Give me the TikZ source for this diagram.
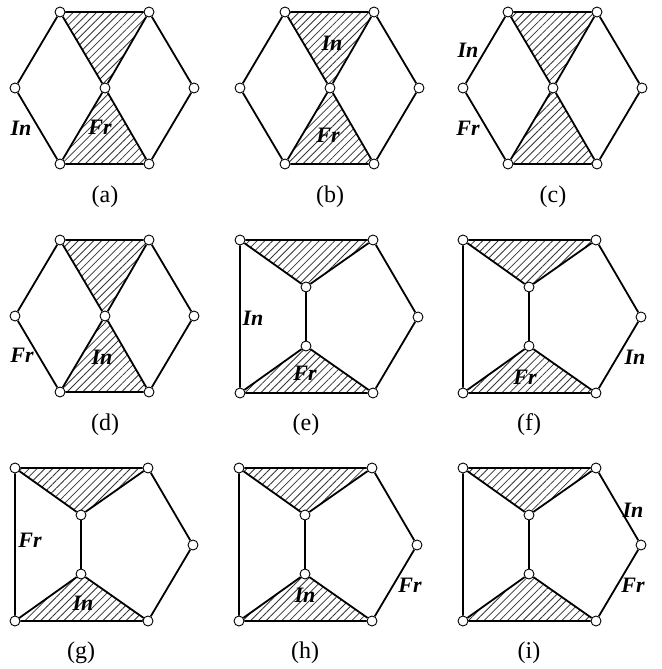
\documentclass[tikz,border=0pt]{standalone}
\usepackage{fontspec}
\setmainfont{Liberation Serif}
\usetikzlibrary{patterns.meta, backgrounds}

\begin{document}
\begin{tikzpicture}[
    x=1pt, y=-1pt,
    vert/.style={circle, draw=black, fill=white, line width=0.9pt, inner sep=0pt, minimum size=10pt},
    edge/.style={line width=1.8pt},
    hatch/.style={pattern={Lines[angle=45, distance=5.5pt, line width=0.8pt]}, pattern color=black!80},
    tag/.style={font=\fontsize{22}{26}\selectfont\bfseries\itshape, inner sep=0pt},
    sublabel/.style={font=\fontsize{24}{28}\selectfont, inner sep=0pt}
]
    \useasboundingbox (0,0) rectangle (661,669);

    % hexagon panels
    \foreach \p/\ox/\oy in {a/15/12, b/240/12, c/463/12, d/15/240} {
        \begin{scope}[shift={(\ox,\oy)}]
            \node[vert] (\p-l)  at (0,76)    {};
            \node[vert] (\p-tl) at (45,0)    {};
            \node[vert] (\p-tr) at (134,0)   {};
            \node[vert] (\p-c)  at (90,76)   {};
            \node[vert] (\p-r)  at (179,76)  {};
            \node[vert] (\p-bl) at (45,152)  {};
            \node[vert] (\p-br) at (134,152) {};
            \node[sublabel] (\p-sub) at (90,185) {(\p)};
            \begin{scope}[on background layer]
                \fill[hatch] (\p-tl.center) -- (\p-tr.center) -- (\p-c.center) -- cycle;
                \fill[hatch] (\p-c.center) -- (\p-bl.center) -- (\p-br.center) -- cycle;
                \draw[edge] (\p-l) -- (\p-tl) -- (\p-tr) -- (\p-r) -- (\p-br) -- (\p-bl) -- (\p-l);
                \draw[edge] (\p-tl) -- (\p-c) -- (\p-br);
                \draw[edge] (\p-tr) -- (\p-c) -- (\p-bl);
            \end{scope}
        \end{scope}
    }

    % pentagon panels
    \foreach \p/\ox/\oy in {e/240/240, f/463/240, g/15/468, h/239/468, i/463/468} {
        \begin{scope}[shift={(\ox,\oy)}]
            \node[vert] (\p-tl) at (0,0)     {};
            \node[vert] (\p-tr) at (133,0)   {};
            \node[vert] (\p-it) at (66,47)   {};
            \node[vert] (\p-ib) at (66,106)  {};
            \node[vert] (\p-r)  at (178,77)  {};
            \node[vert] (\p-bl) at (0,153)   {};
            \node[vert] (\p-br) at (133,153) {};
            \node[sublabel] (\p-sub) at (66,185) {(\p)};
            \begin{scope}[on background layer]
                \fill[hatch] (\p-tl.center) -- (\p-tr.center) -- (\p-it.center) -- cycle;
                \fill[hatch] (\p-ib.center) -- (\p-bl.center) -- (\p-br.center) -- cycle;
                \draw[edge] (\p-tl) -- (\p-tr) -- (\p-r) -- (\p-br) -- (\p-bl) -- (\p-tl);
                \draw[edge] (\p-tl) -- (\p-it) -- (\p-tr);
                \draw[edge] (\p-it) -- (\p-ib);
                \draw[edge] (\p-bl) -- (\p-ib) -- (\p-br);
            \end{scope}
        \end{scope}
    }

    % In / Fr marks
    \node[tag] (a-in) at (21,128)  {In};
    \node[tag] (a-fr) at (100,127) {Fr};
    \node[tag] (b-in) at (332,43)  {In};
    \node[tag] (b-fr) at (328,135) {Fr};
    \node[tag] (c-in) at (468,50)  {In};
    \node[tag] (c-fr) at (468,128) {Fr};
    \node[tag] (d-fr) at (22,355)  {Fr};
    \node[tag] (d-in) at (102,357) {In};
    \node[tag] (e-in) at (253,318) {In};
    \node[tag] (e-fr) at (305,373) {Fr};
    \node[tag] (f-fr) at (525,377) {Fr};
    \node[tag] (f-in) at (635,357) {In};
    \node[tag] (g-fr) at (30,540)  {Fr};
    \node[tag] (g-in) at (83,603)  {In};
    \node[tag] (h-in) at (305,595) {In};
    \node[tag] (h-fr) at (410,585) {Fr};
    \node[tag] (i-in) at (633,510) {In};
    \node[tag] (i-fr) at (633,585) {Fr};
\end{tikzpicture}
\end{document}
